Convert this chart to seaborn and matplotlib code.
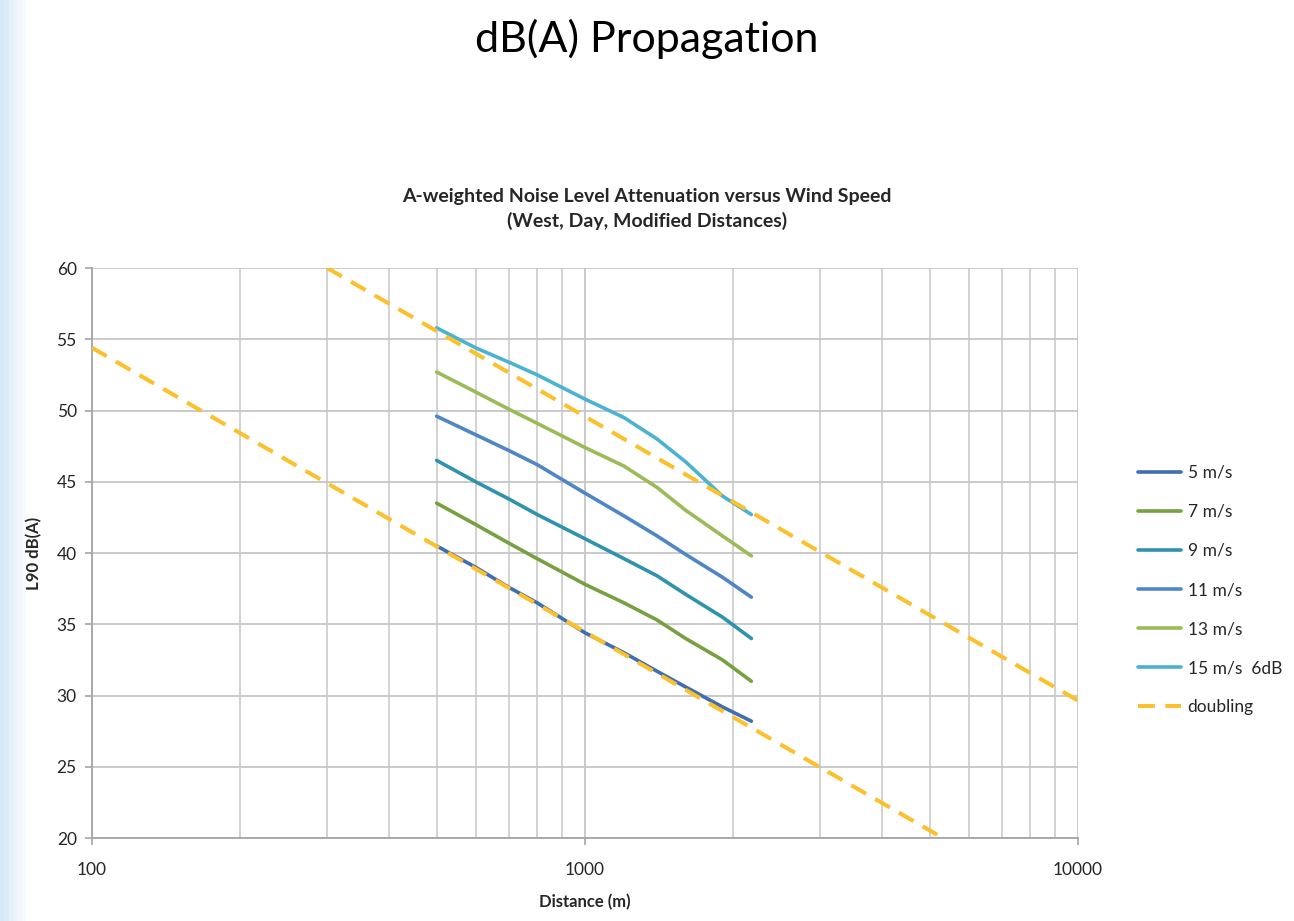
import numpy as np
import pandas as pd
import matplotlib
matplotlib.use("Agg")
import matplotlib.pyplot as plt
from matplotlib.lines import Line2D
import seaborn as sns

# ---- data ----
distances = [500, 600, 700, 800, 1000, 1200, 1400, 1600, 1900, 2175]
ws_5 = [40.5, 39.0, 37.6, 36.5, 34.4, 33.0, 31.7, 30.6, 29.2, 28.2]
ws_7 = [43.5, 42.0, 40.7, 39.6, 37.8, 36.5, 35.3, 34.0, 32.5, 31.0]
ws_9 = [46.5, 45.0, 43.8, 42.7, 41.0, 39.6, 38.4, 37.1, 35.5, 34.0]
ws_11 = [49.6, 48.3, 47.2, 46.2, 44.2, 42.6, 41.2, 39.9, 38.3, 36.9]
ws_13 = [52.7, 51.3, 50.1, 49.1, 47.4, 46.1, 44.6, 43.0, 41.2, 39.8]
ws_15 = [55.8, 54.4, 53.4, 52.5, 50.8, 49.5, 48.0, 46.4, 44.0, 42.7]

series_names = ["5 m/s", "7 m/s", "9 m/s", "11 m/s", "13 m/s", "15 m/s  6dB"]
series_values = [ws_5, ws_7, ws_9, ws_11, ws_13, ws_15]
series_colors = ["#3f6fae", "#77a041", "#2f93ad", "#4f86c6", "#9bbb59", "#4bb3d0"]

# doubling reference lines (-6 dB per doubling of distance)
doubling_low_x = [100, 200, 400, 800, 1600, 3200, 6400]
doubling_low_y = [54.4, 48.4, 42.4, 36.4, 30.4, 24.4, 18.4]
doubling_high_x = [300, 600, 1200, 2400, 4800, 9600, 19200]
doubling_high_y = [60.0, 54.0, 48.0, 42.0, 36.0, 30.0, 24.0]
doubling_color = "#fcc02c"

x_ticks = [100, 1000, 10000]
y_ticks = [20, 25, 30, 35, 40, 45, 50, 55, 60]

# ---- build frame ----
rows = []
for name, vals in zip(series_names, series_values):
    for d, v in zip(distances, vals):
        rows.append({"Distance": d, "Level": v, "Series": name})
df = pd.DataFrame(rows)

dbl = pd.concat([
    pd.DataFrame({"Distance": doubling_low_x, "Level": doubling_low_y, "part": "low"}),
    pd.DataFrame({"Distance": doubling_high_x, "Level": doubling_high_y, "part": "high"}),
])

sns.set_theme(style="white")
plt.rcParams["font.family"] = ["Lato", "DejaVu Sans"]

fig = plt.figure(figsize=(12.94, 9.21), dpi=100)

# light blue slide gradient on the left edge
bg = fig.add_axes([0, 0, 1, 1], zorder=-10)
grad = np.ones((10, 300, 3))
xs = np.linspace(0, 1, 300)
fade = np.clip(1 - xs / 0.02, 0, 1)
base = np.array([0.84, 0.91, 0.97])
for c in range(3):
    grad[:, :, c] = 1 - (1 - base[c]) * fade
bg.imshow(grad, aspect="auto", extent=[0, 1, 0, 1])
bg.set_axis_off()

ax = fig.add_axes([0.0711, 0.0901, 0.7620, 0.6189])
ax.set_xscale("log")

for part, sub in dbl.groupby("part"):
    sns.lineplot(data=sub, x="Distance", y="Level", ax=ax, color=doubling_color,
                 lw=2.9, legend=False, zorder=2, dashes=False, estimator=None)
for ln in ax.get_lines():
    ln.set_dashes((4.2, 2.6))

sns.lineplot(data=df, x="Distance", y="Level", hue="Series", hue_order=series_names,
             palette=dict(zip(series_names, series_colors)), lw=2.6, ax=ax,
             legend=False, estimator=None, zorder=3)
# put the lowest dashed line over the 5 m/s line like the original
for ln in ax.get_lines()[:2]:
    ln.set_zorder(4)

ax.set_xlim(100, 10000)
ax.set_ylim(20, 60)
ax.set_yticks(y_ticks)
ax.set_xticks(x_ticks)
ax.set_xticklabels([str(t) for t in x_ticks])
ax.xaxis.set_minor_locator(matplotlib.ticker.LogLocator(base=10, subs=np.arange(2, 10)))
ax.xaxis.set_minor_formatter(matplotlib.ticker.NullFormatter())

grid_c = "#c6c6c6"
ax.grid(True, which="major", axis="both", color=grid_c, lw=1.3)
ax.grid(True, which="minor", axis="x", color=grid_c, lw=1.1)
for s in ["top", "right"]:
    ax.spines[s].set_visible(False)
for s in ["left", "bottom"]:
    ax.spines[s].set_color("#a6a6a6")
    ax.spines[s].set_linewidth(1.3)
ax.tick_params(axis="both", which="major", length=5, width=1.2, color="#a6a6a6",
               labelsize=12.5, labelcolor="#262626", pad=6)
ax.tick_params(axis="y", direction="out", left=True)
ax.tick_params(axis="x", direction="out", bottom=True, pad=12)
ax.tick_params(axis="x", which="minor", length=0)

ax.set_xlabel("Distance (m)", fontsize=12, fontweight="bold", color="#262626", labelpad=12)
ax.set_ylabel("L90 dB(A)", fontsize=12, fontweight="bold", color="#262626", labelpad=10)

fig.text(0.5, 0.958, "dB(A) Propagation", ha="center", va="center", fontsize=31, color="#000000")
fig.text(0.5, 0.773, "A-weighted Noise Level Attenuation versus Wind Speed\n(West, Day, Modified Distances)",
         ha="center", va="center", fontsize=14, fontweight="bold", color="#262626",
         linespacing=1.5)

handles = [Line2D([0], [0], color=c, lw=2.6) for c in series_colors]
handles.append(Line2D([0], [0], color=doubling_color, lw=2.9, dashes=(4.2, 2.6)))
labels = series_names + ["doubling"]
leg = ax.legend(handles, labels, loc="center left", bbox_to_anchor=(1.045, 0.435),
                frameon=False, fontsize=12.5, handlelength=2.5, labelspacing=1.33,
                handletextpad=0.35)
for t in leg.get_texts():
    t.set_color("#262626")

fig.savefig("out.png", dpi=100)
